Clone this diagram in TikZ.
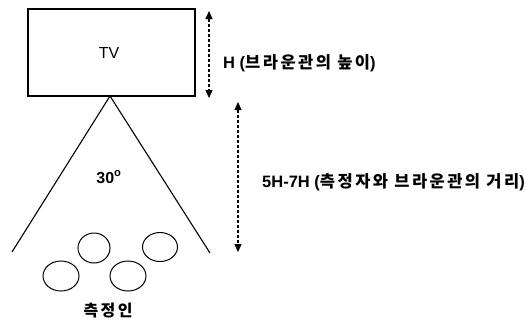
\documentclass[tikz,border=0pt]{standalone}
\usepackage{fontspec}
\setmainfont{Liberation Sans}
\newfontfamily\kr[LetterSpace=15]{Noto Sans CJK KR}
\usetikzlibrary{arrows.meta,shapes.geometric}
\begin{document}
\begin{tikzpicture}[x=1pt,y=-1pt,
  line/.style={line width=1.1pt,black},
  dimarrow/.style={line width=1.2pt,dash pattern=on 3pt off 2pt,{Triangle[width=7pt,length=8pt]}-{Triangle[width=7pt,length=8pt]}},
  person/.style={draw,line width=1pt,ellipse,inner sep=0pt},
  lab/.style={font=\bfseries\fontsize{16.5}{18}\selectfont,anchor=base west,inner sep=0pt}]
\useasboundingbox (0,0) rectangle (526,322);
\node[draw,line width=1.1pt,minimum width=167pt,minimum height=87pt,inner sep=0pt] (tv) at (111.5,52.5) {};
\node[anchor=base,inner sep=0pt,font=\fontsize{16}{18}\selectfont] (tvl) at (109,58) {TV};
\coordinate (apex) at (110,96);
\coordinate (lend) at (12,252);
\coordinate (rend) at (210,253);
\draw[line] (lend) -- (apex) -- (rend);
\node[anchor=base,inner sep=0pt,font=\bfseries\fontsize{16}{18}\selectfont] (ang) at (109,183) {30\textsuperscript{o}};
\coordinate (h1) at (209,11);
\coordinate (h2) at (209,98);
\draw[dimarrow] (h1) -- (h2);
\coordinate (d1) at (238,102);
\coordinate (d2) at (238,252);
\draw[dimarrow] (d1) -- (d2);
\node[lab] (hl) at (223,68) {H ({\kr 브라운관의 높이})};
\node[lab] (dl) at (262,187) {5H-7H ({\kr 측정자와 브라운관의 거리})};
\node[person,minimum width=32pt,minimum height=30pt] (p1) at (94,248) {};
\node[person,minimum width=35pt,minimum height=29pt] (p2) at (160,247) {};
\node[person,minimum width=36pt,minimum height=30pt] (p3) at (61,276) {};
\node[person,minimum width=36pt,minimum height=30pt] (p4) at (128,276) {};
\node[anchor=base,inner sep=0pt,font=\kr\bfseries\fontsize{16}{18}\selectfont] (obs) at (108,316) {측정인};
\end{tikzpicture}
\end{document}
